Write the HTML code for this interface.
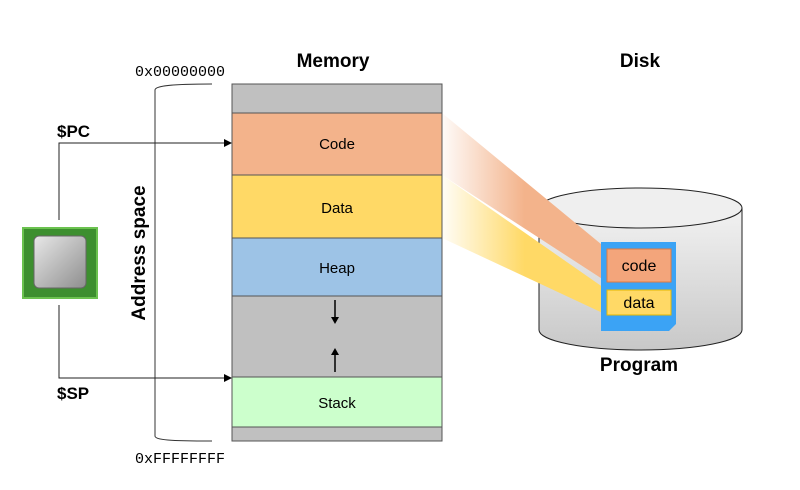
<!DOCTYPE html>
<html><head><style>body{margin:0;background:#fff}svg{display:block}text{font-family:"Liberation Sans",sans-serif}</style></head><body>
<svg width="800" height="490" viewBox="0 0 800 490" xmlns="http://www.w3.org/2000/svg">
<defs>
<linearGradient id="go" x1="0" x2="1"><stop offset="0" stop-color="#f3b38b" stop-opacity="0.05"/><stop offset="0.5" stop-color="#f3b38b"/></linearGradient>
<linearGradient id="gy" x1="0" x2="1"><stop offset="0" stop-color="#ffd966" stop-opacity="0.05"/><stop offset="0.5" stop-color="#ffd966"/></linearGradient>
<linearGradient id="cyl" x1="0" x2="0" y1="0" y2="1"><stop offset="0" stop-color="#f2f2f2"/><stop offset="1" stop-color="#c8c8c8"/></linearGradient>
<linearGradient id="chip" x1="0" x2="1" y1="0" y2="1"><stop offset="0" stop-color="#e8e8e8"/><stop offset="1" stop-color="#8e8e8e"/></linearGradient>
</defs>
<text x="333" y="67" font-size="19" font-weight="bold" text-anchor="middle">Memory</text>
<text x="640" y="67" font-size="19" font-weight="bold" text-anchor="middle">Disk</text>
<text x="180" y="76" font-size="15" text-anchor="middle" style="font-family:'Liberation Mono',monospace">0x00000000</text>
<text x="180" y="463" font-size="15" text-anchor="middle" style="font-family:'Liberation Mono',monospace">0xFFFFFFFF</text>
<g stroke="#555" stroke-width="1">
<rect x="232" y="84" width="210" height="29" fill="#c0c0c0"/>
<rect x="232" y="113" width="210" height="62" fill="#f3b38b"/>
<rect x="232" y="175" width="210" height="63" fill="#ffd966"/>
<rect x="232" y="238" width="210" height="58" fill="#9dc3e6"/>
<rect x="232" y="296" width="210" height="81" fill="#c0c0c0"/>
<rect x="232" y="377" width="210" height="50" fill="#ccffcc"/>
<rect x="232" y="427" width="210" height="14" fill="#c0c0c0"/>
</g>
<g font-size="15" text-anchor="middle">
<text x="337" y="149">Code</text><text x="337" y="213">Data</text><text x="337" y="273">Heap</text><text x="337" y="408">Stack</text>
</g>
<path d="M335 300V320" stroke="#000" stroke-width="1.5"/><path d="M331 317L335 324L339 317Z"/>
<path d="M335 372V352" stroke="#000" stroke-width="1.5"/><path d="M331 355L335 348L339 355Z"/>
<path d="M212 84C170 84 155 86 155 90V436C155 440 170 441 212 441" fill="none" stroke="#333"/>
<text transform="translate(145 253) rotate(-90)" font-size="19" font-weight="bold" text-anchor="middle">Address space</text>
<path d="M59 220V143H226M59 305V378H226" fill="none" stroke="#222"/>
<path d="M224 139L232 143L224 147Z"/><path d="M224 374L232 378L224 382Z"/>
<text x="57" y="137" font-size="17" font-weight="bold">$PC</text>
<text x="57" y="399" font-size="17" font-weight="bold">$SP</text>
<rect x="23" y="228" width="74" height="70" fill="#3d8f2f" stroke="#6bc24f" stroke-width="2"/>
<rect x="34" y="236" width="52" height="52" rx="5" fill="url(#chip)" stroke="#666"/>
<path d="M539 208V330A101.5 20 0 0 0 742 330V208Z" fill="url(#cyl)" stroke="#222"/>
<ellipse cx="640.5" cy="208" rx="101.5" ry="20" fill="#efefef" stroke="#222"/>
<text x="639" y="371" font-size="19" font-weight="bold" text-anchor="middle">Program</text>
<path d="M442 113L607 249V282L442 175Z" fill="url(#go)"/>
<path d="M442 175L607 290V315L442 238Z" fill="url(#gy)"/>
<path d="M601 242H676V324L669 331H601Z" fill="#3ba3f5"/>
<rect x="607" y="249" width="64" height="33" fill="#f3a57b" stroke="#e07a3f"/>
<rect x="607" y="290" width="64" height="25" fill="#ffd966" stroke="#e6b800"/>
<text x="639" y="271" font-size="16" text-anchor="middle">code</text>
<text x="639" y="308" font-size="16" text-anchor="middle">data</text>
</svg>
</body></html>
